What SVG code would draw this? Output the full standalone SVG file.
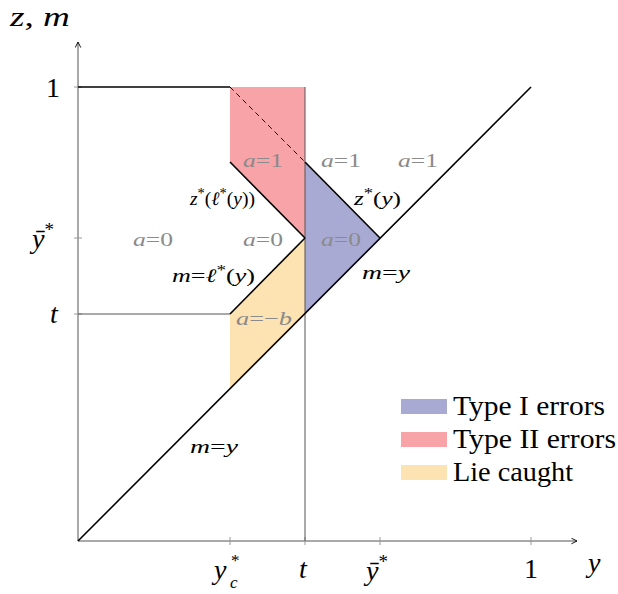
<svg xmlns="http://www.w3.org/2000/svg" width="618" height="594" viewBox="0 0 618 594">
<style>
text{font-family:"Liberation Serif","DejaVu Serif",serif;fill:#000}
.big{font-size:28px}
.sm{font-size:19px}
.g{fill:#8a8a8a}
.i{font-style:italic}
.ax{stroke:#555;stroke-width:1;fill:none}
.tk{stroke:#999;stroke-width:1}
.bl{stroke:#000;stroke-width:1.6;fill:none}
</style>
<defs>
<marker id="ar" viewBox="0 0 10 10" refX="9" refY="5" markerWidth="7" markerHeight="7" orient="auto" markerUnits="userSpaceOnUse">
<path d="M1,1 L9,5 L1,9" fill="none" stroke="#000" stroke-width="1.3"/>
</marker>
</defs>
<g id="regions">
<polygon id="type2" points="230,87 305,87 305,238 230,162" fill="#f7a3a8"/>
<polygon id="type1" points="305,162 380,238 305,314" fill="#a9aad3"/>
<polygon id="lie" points="230,314 305,238 305,314 230,389" fill="#fde2b2"/>
</g>
<g id="connectors">
<line class="ax" x1="78" y1="541" x2="577" y2="541" marker-end="url(#ar)"/>
<line class="ax" x1="78" y1="541" x2="78" y2="42" marker-end="url(#ar)"/>
<line class="tk" x1="230" y1="537" x2="230" y2="545"/>
<line class="tk" x1="305" y1="537" x2="305" y2="545"/>
<line class="tk" x1="380" y1="537" x2="380" y2="545"/>
<line class="tk" x1="531" y1="537" x2="531" y2="545"/>
<line class="tk" x1="74" y1="87" x2="82" y2="87"/>
<line class="tk" x1="74" y1="238" x2="82" y2="238"/>
<line class="tk" x1="74" y1="314" x2="82" y2="314"/>
<line class="ax" x1="305" y1="87" x2="305" y2="541"/>
<line class="ax" x1="78" y1="314" x2="230" y2="314"/>
<line class="bl" x1="78" y1="541" x2="531" y2="87"/>
<line class="bl" x1="78" y1="87" x2="230" y2="87"/>
<line x1="230" y1="87" x2="305" y2="162" stroke="#000" stroke-width="1" stroke-dasharray="5,4"/>
<line class="bl" x1="230" y1="162" x2="305" y2="238"/>
<line class="bl" x1="305" y1="162" x2="380" y2="238"/>
<line class="bl" x1="230" y1="314" x2="305" y2="238"/>
</g>
<g id="axis-labels" class="big">
<text x="10" y="26" textLength="60" lengthAdjust="spacingAndGlyphs"><tspan class="i">z</tspan>, <tspan class="i">m</tspan></text>
<text x="46" y="97">1</text>
<text x="32" y="248" class="i">ȳ<tspan font-size="19" dy="-12" font-style="normal">*</tspan></text>
<text x="50" y="323" class="i">t</text>
<text x="214" y="579" class="i">y</text>
<text x="231" y="566" font-size="17">*</text>
<text x="230" y="588" font-size="17" class="i">c</text>
<text x="299" y="578" class="i">t</text>
<text x="366" y="580" class="i">ȳ<tspan font-size="19" dy="-12" font-style="normal">*</tspan></text>
<text x="524" y="578">1</text>
<text x="588" y="572" class="i">y</text>
</g>
<g id="region-labels" class="sm">
<text class="g" x="243" y="167" textLength="40" lengthAdjust="spacingAndGlyphs"><tspan class="i">a</tspan>=1</text>
<text class="g" x="321" y="167" textLength="40" lengthAdjust="spacingAndGlyphs"><tspan class="i">a</tspan>=1</text>
<text class="g" x="398" y="167" textLength="40" lengthAdjust="spacingAndGlyphs"><tspan class="i">a</tspan>=1</text>
<text class="g" x="133" y="246" textLength="40" lengthAdjust="spacingAndGlyphs"><tspan class="i">a</tspan>=0</text>
<text class="g" x="243" y="246" textLength="40" lengthAdjust="spacingAndGlyphs"><tspan class="i">a</tspan>=0</text>
<text class="g" x="321" y="246" textLength="40" lengthAdjust="spacingAndGlyphs"><tspan class="i">a</tspan>=0</text>
<text class="g" x="236" y="325" textLength="56" lengthAdjust="spacingAndGlyphs"><tspan class="i">a</tspan>=−<tspan class="i">b</tspan></text>
</g>
<g id="curve-labels" class="sm">
<text x="190" y="205" textLength="65" lengthAdjust="spacingAndGlyphs"><tspan class="i">z</tspan><tspan font-size="14" dy="-7">*</tspan><tspan dy="7">(</tspan><tspan class="i">ℓ</tspan><tspan font-size="14" dy="-7">*</tspan><tspan dy="7">(</tspan><tspan class="i">y</tspan>))</text>
<text x="354" y="205" textLength="47" lengthAdjust="spacingAndGlyphs"><tspan class="i">z</tspan><tspan font-size="14" dy="-7">*</tspan><tspan dy="7">(</tspan><tspan class="i">y</tspan>)</text>
<text x="172" y="282" textLength="83" lengthAdjust="spacingAndGlyphs"><tspan class="i">m</tspan>=<tspan class="i">ℓ</tspan><tspan font-size="14" dy="-7">*</tspan><tspan dy="7">(</tspan><tspan class="i">y</tspan>)</text>
<text x="362" y="279" textLength="48" lengthAdjust="spacingAndGlyphs"><tspan class="i">m</tspan>=<tspan class="i">y</tspan></text>
<text x="190" y="453" textLength="48" lengthAdjust="spacingAndGlyphs"><tspan class="i">m</tspan>=<tspan class="i">y</tspan></text>
</g>
<g id="legend" class="big">
<rect x="401" y="399" width="46" height="15" fill="#a9aad3"/>
<rect x="401" y="432" width="46" height="15" fill="#f7a3a8"/>
<rect x="401" y="465" width="46" height="15" fill="#fde2b2"/>
<text x="453" y="415" textLength="152" lengthAdjust="spacingAndGlyphs">Type I errors</text>
<text x="453" y="448" textLength="163" lengthAdjust="spacingAndGlyphs">Type II errors</text>
<text x="453" y="481" textLength="120" lengthAdjust="spacingAndGlyphs">Lie caught</text>
</g>
</svg>
